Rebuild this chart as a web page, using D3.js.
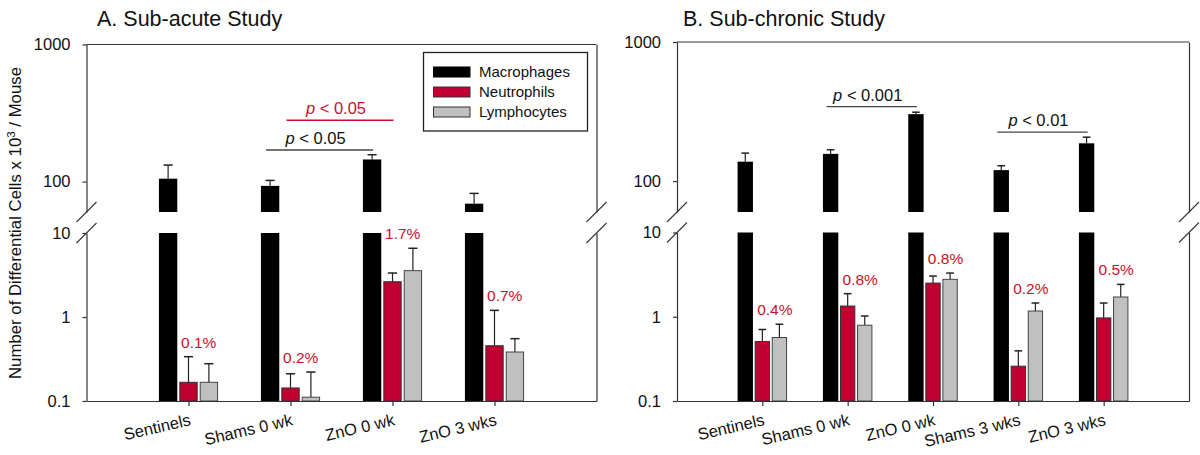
<!DOCTYPE html>
<html>
<head>
<meta charset="utf-8">
<script src="https://cdn.jsdelivr.net/npm/d3@7"></script>
<style>
  html, body { margin: 0; padding: 0; background: #fff; }
  svg { display: block; font-family: "Liberation Sans", Arial, Helvetica, sans-serif; }
</style>
</head>
<body>
<svg id="chart" width="1200" height="455"></svg>
<script>
// ---------------- DATA ----------------
const seriesNames = ["Macrophages", "Neutrophils", "Lymphocytes"];

// Panel A: Sub-acute study
const categoriesA = ["Sentinels", "Shams 0 wk", "ZnO 0 wk", "ZnO 3 wks"];
const macroA   = [105, 93, 145, 69];
const macroSEA = [27, 9, 12, 13];
const neutroA   = [0.167, 0.143, 2.63, 0.455];
const neutroSEA = [0.17, 0.068, 0.71, 0.745];
const lymphA   = [0.167, 0.111, 3.56, 0.383];
const lymphSEA = [0.111, 0.11, 3.02, 0.169];
const pctA = ["0.1%", "0.2%", "1.7%", "0.7%"];
// significance: [fromCategoryIndex, toCategoryIndex, seriesIndex, value level, label]
const sigA = [[1, 2, 0, 170, "< 0.05"], [1, 2, 1, 280, "< 0.05"]];

// Panel B: Sub-chronic study
const categoriesB = ["Sentinels", "Shams 0 wk", "ZnO 0 wk", "Shams 3 wks", "ZnO 3 wks"];
const macroB   = [138, 157, 303, 120, 187];
const macroSEB = [21, 11, 10, 9, 20];
const neutroB   = [0.509, 1.34, 2.51, 0.259, 0.968];
const neutroSEB = [0.197, 0.54, 0.53, 0.135, 0.488];
const lymphB   = [0.567, 0.793, 2.78, 1.17, 1.715];
const lymphSEB = [0.248, 0.227, 0.52, 0.286, 0.705];
const pctB = ["0.4%", "0.8%", "0.8%", "0.2%", "0.5%"];
const sigB = [[1, 2, 0, 343, "< 0.001"], [3, 4, 0, 225, "< 0.01"]];

const upperTicks = [100, 1000];
const lowerTicks = [0.1, 1, 10];
const breakLow = 10, breakHigh = 60;

// ---------------- STYLE ----------------
const colors = ["#000000", "#c00030", "#c0c0c0"];
const strokes = ["#000000", "#333333", "#444444"];
const red = "#c8102e";
const axisColor = "#333";

const svg = d3.select("#chart");

function drawPanel(cfg) {
  const g = svg.append("g");
  const n = cfg.categories.length;
  const x = d3.scaleLinear().domain([0, n + 1]).range([cfg.left, cfg.right]);
  const yU = d3.scaleLog().domain([breakHigh, 1000]).range([cfg.breakTop, cfg.top]);
  const yL = d3.scaleLog().domain([0.1, breakLow]).range([cfg.bottom, cfg.breakBottom]);
  const slot = x(1) - x(0);
  const bw = slot * 0.18, step = slot * 0.2;
  const cap = bw * 0.5;
  const cx = (i, s) => x(i + 1) + (s - 1) * step;

  // title
  g.append("text").attr("x", cfg.titleX).attr("y", 26)
    .attr("font-size", 21.5).attr("fill", "#111").text(cfg.title);

  // bars
  const vals = [cfg.macro, cfg.neutro, cfg.lymph];
  const ses = [cfg.macroSE, cfg.neutroSE, cfg.lymphSE];
  cfg.categories.forEach((c, i) => {
    g.append("rect").attr("x", cx(i, 0) - bw / 2).attr("width", bw)
      .attr("y", yU(vals[0][i])).attr("height", yU(breakHigh) - yU(vals[0][i]))
      .attr("fill", colors[0]);
    g.append("rect").attr("x", cx(i, 0) - bw / 2).attr("width", bw)
      .attr("y", yL(breakLow)).attr("height", yL(0.1) - yL(breakLow))
      .attr("fill", colors[0]);
    const eTop = yU(vals[0][i] + ses[0][i]);
    g.append("line").attr("x1", cx(i, 0)).attr("x2", cx(i, 0))
      .attr("y1", yU(vals[0][i])).attr("y2", eTop).attr("stroke", "#222").attr("stroke-width", 1.2);
    g.append("line").attr("x1", cx(i, 0) - cap / 2).attr("x2", cx(i, 0) + cap / 2)
      .attr("y1", eTop).attr("y2", eTop).attr("stroke", "#222").attr("stroke-width", 1.5);
    for (let s = 1; s <= 2; s++) {
      const v = vals[s][i], e = ses[s][i];
      const yt = yL(v + e);
      g.append("line").attr("x1", cx(i, s)).attr("x2", cx(i, s))
        .attr("y1", yL(v)).attr("y2", yt).attr("stroke", "#222").attr("stroke-width", 1.2);
      g.append("line").attr("x1", cx(i, s) - cap / 2).attr("x2", cx(i, s) + cap / 2)
        .attr("y1", yt).attr("y2", yt).attr("stroke", "#222").attr("stroke-width", 1.5);
      g.append("rect").attr("x", cx(i, s) - bw / 2 + 0.5).attr("width", bw - 1)
        .attr("y", yL(v)).attr("height", yL(0.1) - yL(v))
        .attr("fill", colors[s]).attr("stroke", strokes[s]).attr("stroke-width", 1);
    }
    const topErr = Math.min(yL(vals[1][i] + ses[1][i]), yL(vals[2][i] + ses[2][i]));
    g.append("text").attr("x", (cx(i, 1) + cx(i, 2)) / 2 + cfg.pctShift).attr("y", topErr - 9)
      .attr("text-anchor", "middle").attr("font-size", 15.5).attr("fill", red).text(cfg.pct[i]);
  });

  // axes
  const fmt = d => d >= 1 ? d3.format("d")(d) : String(d);
  const axU = g.append("g").attr("transform", `translate(${cfg.left},0)`)
    .call(d3.axisLeft(yU).tickValues(upperTicks).tickFormat(fmt).tickSize(4).tickSizeOuter(0).tickPadding(12));
  const axL = g.append("g").attr("transform", `translate(${cfg.left},0)`)
    .call(d3.axisLeft(yL).tickValues(lowerTicks).tickFormat(fmt).tickSize(4).tickSizeOuter(0).tickPadding(12));
  const axRU = g.append("g").attr("transform", `translate(${cfg.right},0)`)
    .call(d3.axisRight(yU).tickValues([]).tickSizeOuter(0));
  const axRL = g.append("g").attr("transform", `translate(${cfg.right},0)`)
    .call(d3.axisRight(yL).tickValues([]).tickSizeOuter(0));
  const axB = g.append("g").attr("transform", `translate(0,${cfg.bottom})`)
    .call(d3.axisBottom(x).tickValues(d3.range(1, n + 1)).tickFormat("").tickSize(5).tickSizeOuter(0));
  g.append("line").attr("x1", cfg.left).attr("x2", cfg.right).attr("y1", cfg.top).attr("y2", cfg.top)
    .attr("stroke", axisColor).attr("stroke-width", 1.2);
  [axU, axL, axRU, axRL, axB].forEach(a => {
    a.selectAll("path, line").attr("stroke", axisColor).attr("stroke-width", 1.2);
    a.selectAll("text").attr("font-size", 16.5).attr("fill", "#111")
      .style("font-family", "'Liberation Sans', Arial, sans-serif");
  });

  // break marks
  [cfg.left, cfg.right].forEach(ax => {
    [yU(breakHigh), yL(breakLow)].forEach(yy => {
      g.append("line").attr("x1", ax - 10).attr("y1", yy + 10).attr("x2", ax + 10).attr("y2", yy - 10)
        .attr("stroke", axisColor).attr("stroke-width", 1.1);
    });
  });

  // category labels
  cfg.categories.forEach((c, i) => {
    g.append("text").attr("transform", `translate(${x(i + 1) + 3},${cfg.bottom + 24}) rotate(-13)`)
      .attr("text-anchor", "end").attr("font-size", 16.5).attr("fill", "#111").text(c);
  });

  // significance annotations
  cfg.sig.forEach(([a, b, s, lvl, label]) => {
    const yy = yU(lvl);
    const x1 = cx(a, s) - 4, x2 = cx(b, s) + 1;
    const col = s === 1 ? red : "#444";
    g.append("line").attr("x1", x1).attr("x2", x2).attr("y1", yy).attr("y2", yy)
      .attr("stroke", col).attr("stroke-width", 1.4);
    const t = g.append("text").attr("x", (x1 + x2) / 2 - 4).attr("y", yy - 6)
      .attr("text-anchor", "middle").attr("font-size", 16.5).attr("fill", s === 1 ? red : "#111");
    t.append("tspan").attr("font-style", "italic").text("p");
    t.append("tspan").text(" " + label);
  });

  return { x, yU, yL };
}

drawPanel({
  title: "A. Sub-acute Study", titleX: 97,
  categories: categoriesA, macro: macroA, macroSE: macroSEA, neutro: neutroA, neutroSE: neutroSEA,
  lymph: lymphA, lymphSE: lymphSEA, pct: pctA, sig: sigA,
  left: 86.5, right: 596.5, top: 44.5, bottom: 401, breakTop: 212, breakBottom: 233, pctShift: 0
});
drawPanel({
  title: "B. Sub-chronic Study", titleX: 683,
  categories: categoriesB, macro: macroB, macroSE: macroSEB, neutro: neutroB, neutroSE: neutroSEB,
  lymph: lymphB, lymphSE: lymphSEB, pct: pctB, sig: sigB,
  left: 677, right: 1189, top: 42, bottom: 401, breakTop: 212, breakBottom: 232.5, pctShift: 4
});

// legend (panel A)
const lg = svg.append("g");
lg.append("rect").attr("x", 423.5).attr("y", 52.5).attr("width", 164).attr("height", 78.5)
  .attr("fill", "#fff").attr("stroke", "#222").attr("stroke-width", 1.3);
seriesNames.forEach((name, i) => {
  const yy = 72 + i * 20;
  lg.append("rect").attr("x", 433.5).attr("y", yy - 5).attr("width", 36.5).attr("height", 10)
    .attr("fill", colors[i]).attr("stroke", i === 0 ? "#000" : "#333").attr("stroke-width", 1);
  lg.append("text").attr("x", 479).attr("y", yy).attr("dy", "0.36em")
    .attr("font-size", 15).attr("fill", "#111").text(name);
});

// y-axis label
const yl = svg.append("text").attr("transform", "translate(21,223) rotate(-90)")
  .attr("text-anchor", "middle").attr("font-size", 16.8).attr("fill", "#111");
yl.append("tspan").text("Number of Differential Cells x 10");
yl.append("tspan").attr("font-size", 11.5).attr("dy", -6).text("3");
yl.append("tspan").attr("dy", 6).text(" / Mouse");
</script>
</body>
</html>
